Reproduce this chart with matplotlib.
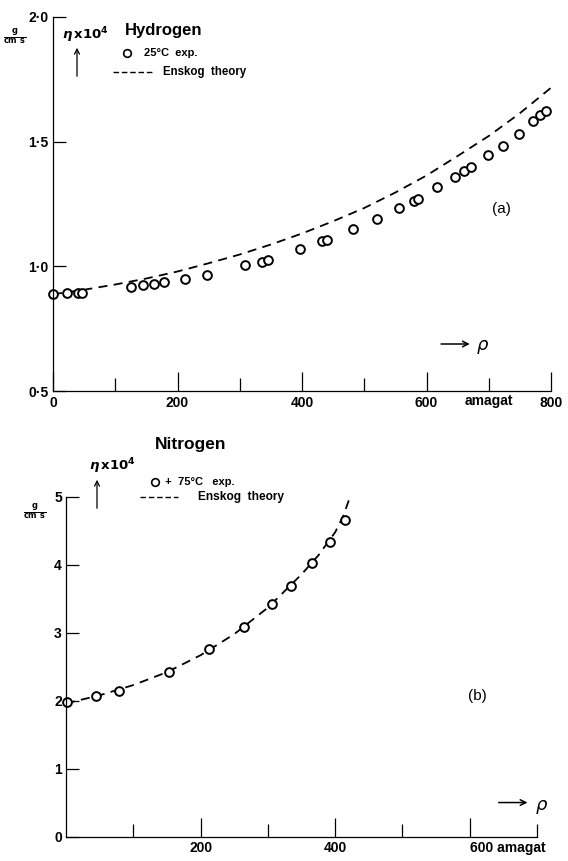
import matplotlib
matplotlib.use("Agg")
import matplotlib.pyplot as plt
from matplotlib.lines import Line2D
from matplotlib.patches import FancyArrowPatch

plt.rcParams['font.family'] = ['Liberation Sans Narrow', 'Liberation Sans', 'DejaVu Sans']
plt.rcParams['font.weight'] = 'bold'
plt.rcParams['mathtext.fontset'] = 'dejavusans'

W, H = 568, 861

# hydrogen, 25 C
h2_rho = [0, 22.6, 40, 47, 125.4, 144.6, 162, 178.8, 211.9, 246.7, 308.3, 335.6, 346,
          396, 432, 440.6, 482.4, 520.8, 556, 580.5, 587, 616.5, 645.5, 659.5, 671,
          699, 723, 748, 771, 782, 792]
h2_eta = [0.889, 0.894, 0.894, 0.894, 0.916, 0.926, 0.929, 0.938, 0.951, 0.967, 1.004,
          1.017, 1.025, 1.069, 1.102, 1.107, 1.149, 1.190, 1.232, 1.263, 1.270, 1.317,
          1.358, 1.384, 1.397, 1.448, 1.484, 1.528, 1.580, 1.604, 1.620]
h2_th_rho = [0, 50, 100, 150, 200, 250, 300, 350, 400, 450, 500, 550, 600, 650, 700, 750, 800]
h2_th_eta = [0.889, 0.907, 0.928, 0.952, 0.980, 1.013, 1.048, 1.088, 1.132, 1.181,
             1.234, 1.296, 1.364, 1.442, 1.522, 1.613, 1.715]

# nitrogen, 75 C
n2_rho = [1, 44.9, 79, 152.8, 212.6, 263.9, 305.6, 334.4, 364.9, 392, 414]
n2_eta = [1.98, 2.07, 2.15, 2.43, 2.76, 3.08, 3.42, 3.69, 4.03, 4.33, 4.66]
n2_th_rho = [0, 50, 100, 150, 200, 250, 300, 350, 375, 400, 412, 425]
n2_th_eta = [1.96, 2.08, 2.23, 2.42, 2.67, 2.98, 3.37, 3.86, 4.14, 4.48, 4.72, 5.08]

h2_yticks = [0.5, 1.0, 1.5, 2.0]
h2_ylabels = ['0·5', '1·0', '1·5', '2·0']
h2_xticks = [0, 200, 400, 600, 800]
n2_yticks = [0, 1, 2, 3, 4, 5]
n2_xticks = [200, 400, 600]


def fx(x):
    return x / W


def fy(y):
    return 1 - y / H


def axes_px(left, right, top, bottom):
    return [fx(left), fy(bottom), (right - left) / W, (bottom - top) / H]


def style(ax, major, minor, ylabels):
    for s in ['top', 'right']:
        ax.spines[s].set_visible(False)
    for s in ['left', 'bottom']:
        ax.spines[s].set_linewidth(0.9)
    ax.set_xticks(major)
    ax.set_xticks(minor, minor=True)
    ax.tick_params(axis='x', which='major', direction='in', length=14, width=0.9,
                   labelsize=10, pad=3)
    ax.tick_params(axis='x', which='minor', direction='in', length=9.5, width=0.9)
    ax.tick_params(axis='y', which='major', direction='in', length=9, width=0.9,
                   labelsize=10, pad=3)
    ax.set_yticklabels(ylabels)


def up_arrow(x, y0, y1):
    fig.add_artist(FancyArrowPatch((fx(x), fy(y0)), (fx(x), fy(y1)),
                                   transform=fig.transFigure, arrowstyle='->',
                                   mutation_scale=9, lw=0.9, color='black'))


fig = plt.figure(figsize=(W / 100, H / 100), dpi=100)

# ---- (a) hydrogen
ax1 = fig.add_axes(axes_px(53, 551, 16.5, 391.5))
ax1.plot(h2_th_rho, h2_th_eta, color='black', lw=1.3, dashes=(5, 3.5))
ax1.plot(h2_rho, h2_eta, 'o', mfc='white', mec='black', mew=1.4, ms=6.3, clip_on=False)
ax1.set_xlim(0, 800)
ax1.set_ylim(0.5, 2.0)
ax1.set_yticks(h2_yticks)
style(ax1, h2_xticks, [100, 300, 500, 700], h2_ylabels)
ax1.text(700, 0.5 - 0.012, 'amagat', ha='center', va='top', fontsize=10)
ax1.text(720, 1.23, '(a)', ha='center', va='center', fontsize=11, fontweight='normal')
ax1.annotate('', xy=(674, 0.69), xytext=(619, 0.69),
             arrowprops=dict(arrowstyle='->', lw=1.1, color='black'))
ax1.text(690, 0.685, 'ρ', fontsize=13, ha='center', va='center',
         fontweight='normal', fontstyle='italic', family='DejaVu Sans')

# ---- (b) nitrogen
ax2 = fig.add_axes(axes_px(66, 537, 497, 836.5))
ax2.plot(n2_th_rho, n2_th_eta, color='black', lw=1.3, dashes=(5, 3.5))
ax2.plot(n2_rho, n2_eta, 'o', mfc='white', mec='black', mew=1.4, ms=6.3, clip_on=False)
ax2.set_xlim(0, 700)
ax2.set_ylim(0, 5)
ax2.set_yticks(n2_yticks)
style(ax2, n2_xticks, [100, 300, 500, 700], [str(v) for v in n2_yticks])
ax2.set_xticklabels(['200', '400', '600 amagat'])
for lbl in ax2.get_xticklabels():
    if 'amagat' in lbl.get_text():
        lbl.set_ha('left')
        lbl.set_x(582)
ax2.text(612, 2.07, '(b)', ha='center', va='center', fontsize=11, fontweight='normal')
ax2.annotate('', xy=(690, 0.5), xytext=(639, 0.5),
             arrowprops=dict(arrowstyle='->', lw=1.1, color='black'))
ax2.text(707, 0.47, 'ρ', fontsize=13, ha='center', va='center',
         fontweight='normal', fontstyle='italic', family='DejaVu Sans')

# ---- labels drawn in figure pixels
unit = r'$\frac{\mathbf{g}}{\mathbf{cm\ s}}$'
fig.text(fx(15), fy(36), unit, fontsize=8.5, ha='center', va='center')
fig.text(fx(35), fy(511), unit, fontsize=8.5, ha='center', va='center')

eta = r'$\eta\,\mathbf{x10^4}$'
fig.text(fx(62), fy(35), eta, fontsize=9.5, ha='left', va='center')
fig.text(fx(89), fy(466), eta, fontsize=9.5, ha='left', va='center')
up_arrow(77, 79, 45)
up_arrow(97, 511, 477)

fig.text(fx(125), fy(30), 'Hydrogen', fontsize=12, ha='left', va='center')
fig.text(fx(155), fy(445), 'Nitrogen', fontsize=12.5, ha='left', va='center')

# key entries
fig.add_artist(Line2D([fx(127)], [fy(53)], marker='o', mfc='white', mec='black',
                      mew=1.2, ms=5.5, transform=fig.transFigure))
fig.text(fx(144), fy(53), '25°C  exp.', fontsize=8, ha='left', va='center')
fig.add_artist(Line2D([fx(113), fx(153)], [fy(72), fy(72)], color='black', lw=1.0,
                      dashes=(4, 2), transform=fig.transFigure))
fig.text(fx(163), fy(72), 'Enskog  theory', fontsize=8.3, ha='left', va='center')

fig.add_artist(Line2D([fx(155)], [fy(482)], marker='o', mfc='white', mec='black',
                      mew=1.2, ms=5.5, transform=fig.transFigure))
fig.text(fx(162), fy(482), ' +  75°C   exp.', fontsize=8, ha='left', va='center')
fig.add_artist(Line2D([fx(140), fx(178)], [fy(497), fy(497)], color='black', lw=1.0,
                      dashes=(4, 2), transform=fig.transFigure))
fig.text(fx(198), fy(497), 'Enskog  theory', fontsize=8.6, ha='left', va='center')

fig.savefig('out.png', dpi=100)
